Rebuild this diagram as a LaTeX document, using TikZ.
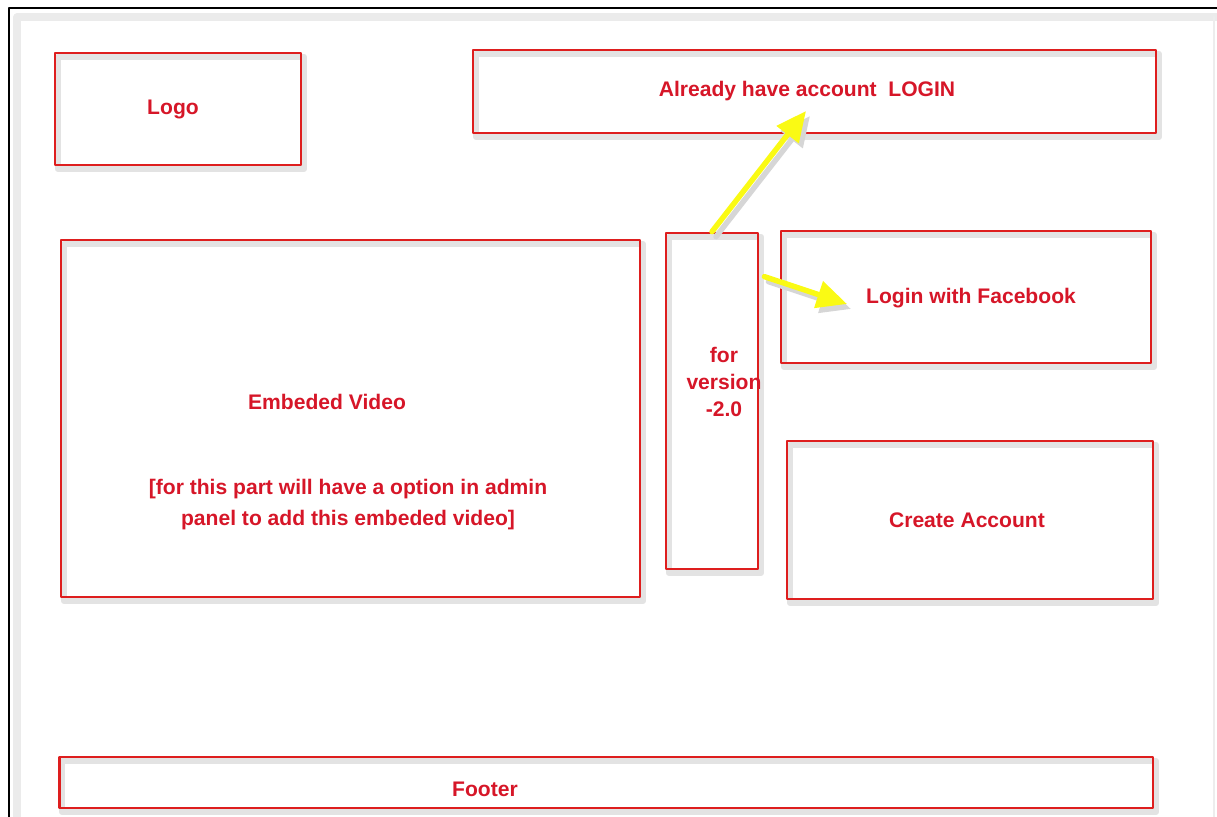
\documentclass[tikz,border=0pt]{standalone}
\usepackage{fontspec}
\setmainfont{Liberation Sans}
\usetikzlibrary{arrows.meta,calc}

\definecolor{boxred}{RGB}{222,30,30}
\definecolor{txtred}{RGB}{214,22,40}
\definecolor{hiyellow}{RGB}{250,250,20}

\tikzset{
  wirebox/.style={draw=boxred,line width=1.6pt,inner sep=0pt,
    preaction={draw=black!11,line width=3.6pt,transform canvas={shift={(3,4)}}}},
  caption/.style={text=txtred,font=\fontsize{12}{15}\selectfont\bfseries,align=center},
  pointer/.style={draw=hiyellow,line width=3.1pt,
    -{Triangle[length=0.6cm,width=0.54cm]},
    preaction={draw=black!16,line width=3.1pt,-{Triangle[length=0.6cm,width=0.54cm]},
      transform canvas={shift={(4,5)}}}}
}

\begin{document}
\begin{tikzpicture}[x=0.02cm,y=-0.02cm,line cap=round,line join=round]
  \useasboundingbox (0,0) rectangle (1217,817);
  % page frame
  \draw[black!8,line width=4pt] (17,817) -- (17,17) -- (1217,17);
  \draw[black!7,line width=1.2pt] (1214,17) -- (1214,817);
  \draw[line width=1.6pt] (9,817) -- (9,8) -- (1217,8);

  % boxes
  \node[wirebox,minimum width=4.92cm,minimum height=2.24cm] (logo) at (178,109) {};
  \node[wirebox,minimum width=13.66cm,minimum height=1.66cm] (login) at (814.5,91.5) {};
  \node[wirebox,minimum width=11.58cm,minimum height=7.14cm] (video) at (350.5,418.5) {};
  \node[wirebox,minimum width=1.84cm,minimum height=6.72cm] (ver) at (712,401) {};
  \node[wirebox,minimum width=7.40cm,minimum height=2.64cm] (fb) at (966,297) {};
  \node[wirebox,minimum width=7.32cm,minimum height=3.16cm] (acct) at (970,520) {};
  \node[wirebox,minimum width=21.88cm,minimum height=1.02cm] (footer) at (606,782.5) {};

  % texts
  \node[caption] (logotxt) at (173,109) {Logo};
  \node[caption] (logintxt) at (807,91) {Already have account\ \ LOGIN};
  \node[caption] (videotxt) at (327,402) {Embeded Video};
  \node[caption,font=\fontsize{12}{17.6}\selectfont\bfseries] (videonote) at (348,505)
    {[for this part will have a option in admin\\panel to add this embeded video]};
  \node[caption,font=\fontsize{12}{15.2}\selectfont\bfseries] (vertxt) at (724,382) {for\\version\\-2.0};
  \node[caption] (fbtxt) at (971,298) {Login with Facebook};
  \node[caption] (accttxt) at (967,520) {Create Account};
  \node[caption] (footertxt) at (485,789) {Footer};

  % arrows
  \coordinate (logintip) at (806,111);
  \coordinate (fbtip) at (847,304);
  \draw[pointer] (ver.north) -- (logintip);
  \draw[pointer] ($(ver.north east)+(5,45)$) -- (fbtip);
\end{tikzpicture}
\end{document}
